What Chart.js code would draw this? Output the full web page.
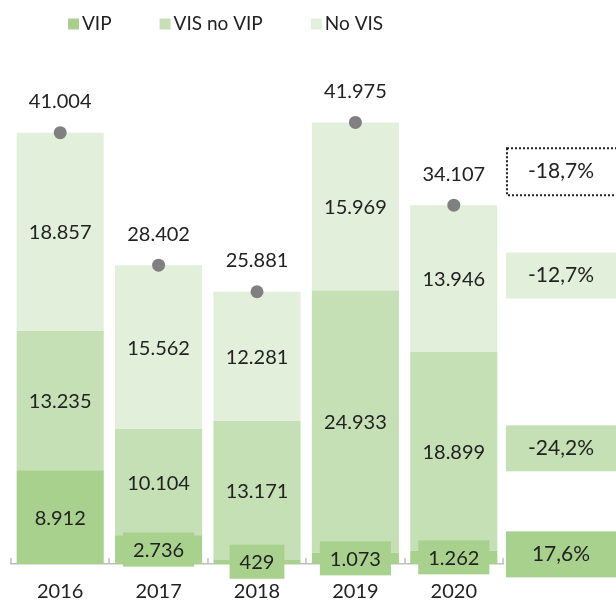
<!DOCTYPE html>
<html>
<head>
<meta charset="utf-8">
<script src="https://cdn.jsdelivr.net/npm/chart.js@4.4.1/dist/chart.umd.min.js"></script>
<style>
  html, body { margin: 0; padding: 0; background: #ffffff; }
  #wrap { width: 616px; height: 602px; }
</style>
</head>
<body>
<div id="wrap"><canvas id="chart" width="616" height="602"></canvas></div>
<script>
const years = ["2016", "2017", "2018", "2019", "2020"];
const vip = [8912, 2736, 429, 1073, 1262];
const visNoVip = [13235, 10104, 13171, 24933, 18899];
const noVis = [18857, 15562, 12281, 15969, 13946];
const totals = [41004, 28402, 25881, 41975, 34107];
// 2020 vs 2019: VIP, VIS no VIP, No VIS, total
const changeLabels = ["17,6%", "-24,2%", "-12,7%", "-18,7%"];

const vipColor = "#a9d18e";
const visColor = "#c5e0b4";
const noVisColor = "#e2efda";
const dotColor = "#808080";
const textColor = "#222222";
const axisColor = "#bfbfbf";
const fontFamily = "Lato, 'Open Sans', sans-serif";

function formatThousands(n) {
  return String(n).replace(/\B(?=(\d{3})+(?!\d))/g, ".");
}

const labelPlugin = {
  id: "valueLabels",
  afterDatasetsDraw(chart) {
    const ctx = chart.ctx;
    const area = chart.chartArea;
    const xScale = chart.scales.x;
    ctx.save();

    // small inside tick marks between categories
    ctx.strokeStyle = axisColor;
    ctx.lineWidth = 1.5;
    for (let i = 0; i <= years.length; i++) {
      const x = Math.round(xScale.getPixelForValue(i - 0.5));
      ctx.beginPath();
      ctx.moveTo(x, area.bottom);
      ctx.lineTo(x, area.bottom - 6);
      ctx.stroke();
    }

    ctx.font = `20px ${fontFamily}`;
    ctx.textAlign = "center";
    ctx.textBaseline = "middle";

    const lastY = [];
    [0, 1, 2].forEach((di) => {
      const meta = chart.getDatasetMeta(di);
      const ds = chart.data.datasets[di];
      meta.data.forEach((bar, j) => {
        const y = (bar.y + bar.base) / 2;
        const text = formatThousands(ds.data[j]);
        if (di === 0) {
          const w = ctx.measureText(text).width + 20;
          ctx.fillStyle = ds.backgroundColor;
          ctx.fillRect(bar.x - w / 2, y - 17, w, 34);
        }
        ctx.fillStyle = textColor;
        ctx.fillText(text, bar.x, y + 1);
        if (j === meta.data.length - 1) lastY[di] = y;
      });
    });

    const totalMeta = chart.getDatasetMeta(3);
    totalMeta.data.forEach((pt, j) => {
      ctx.fillStyle = textColor;
      ctx.fillText(formatThousands(totals[j]), pt.x, pt.y - 31);
      if (j === totalMeta.data.length - 1) lastY[3] = pt.y - 31;
    });

    // change boxes on the right
    const boxLeft = area.right + 3;
    const boxW = chart.width - boxLeft + 4;
    const boxColors = [vipColor, visColor, noVisColor, null];
    ctx.font = `21px ${fontFamily}`;
    changeLabels.forEach((t, k) => {
      const cy = lastY[k] - 3;
      if (boxColors[k]) {
        ctx.fillStyle = boxColors[k];
        ctx.fillRect(boxLeft, cy - 23, boxW, 46);
      } else {
        ctx.strokeStyle = textColor;
        ctx.lineWidth = 2;
        ctx.setLineDash([2, 2]);
        ctx.strokeRect(boxLeft + 1, cy - 23, boxW, 47);
        ctx.setLineDash([]);
      }
      ctx.fillStyle = textColor;
      ctx.fillText(t, boxLeft + 55, cy);
    });
    ctx.restore();
  }
};

const legendPlugin = {
  id: "topLegend",
  afterDraw(chart) {
    const ctx = chart.ctx;
    ctx.save();
    ctx.font = `19px ${fontFamily}`;
    ctx.textAlign = "left";
    ctx.textBaseline = "middle";
    let x = 68;
    const y = 24;
    chart.data.datasets.slice(0, 3).forEach((ds) => {
      ctx.fillStyle = ds.backgroundColor;
      ctx.fillRect(x, y - 5.5, 11, 11);
      ctx.fillStyle = textColor;
      ctx.fillText(ds.label, x + 14, y);
      x += 14 + ctx.measureText(ds.label).width + 48;
    });
    ctx.restore();
  }
};

new Chart(document.getElementById("chart"), {
  type: "bar",
  data: {
    labels: years,
    datasets: [
      { label: "VIP", data: vip, backgroundColor: vipColor, order: 1 },
      { label: "VIS no VIP", data: visNoVip, backgroundColor: visColor, order: 1 },
      { label: "No VIS", data: noVis, backgroundColor: noVisColor, order: 1 },
      {
        type: "line",
        label: "Total",
        data: totals,
        showLine: false,
        pointRadius: 6.5,
        pointBackgroundColor: dotColor,
        pointBorderWidth: 0,
        order: 0
      }
    ]
  },
  options: {
    responsive: false,
    animation: false,
    layout: { padding: { top: 38, left: 11, right: 113, bottom: -18 } },
    datasets: { bar: { categoryPercentage: 1, barPercentage: 0.885 } },
    plugins: {
      legend: { display: false },
      tooltip: { enabled: false }
    },
    scales: {
      x: {
        stacked: true,
        grid: { display: false, drawTicks: false },
        border: { display: true, color: axisColor, width: 1.5 },
        ticks: {
          color: textColor,
          font: { family: fontFamily, size: 20, lineHeight: 1 },
          padding: 18
        }
      },
      y: { stacked: true, display: false, min: 0, max: 50000 }
    }
  },
  plugins: [labelPlugin, legendPlugin]
});
</script>
</body>
</html>
